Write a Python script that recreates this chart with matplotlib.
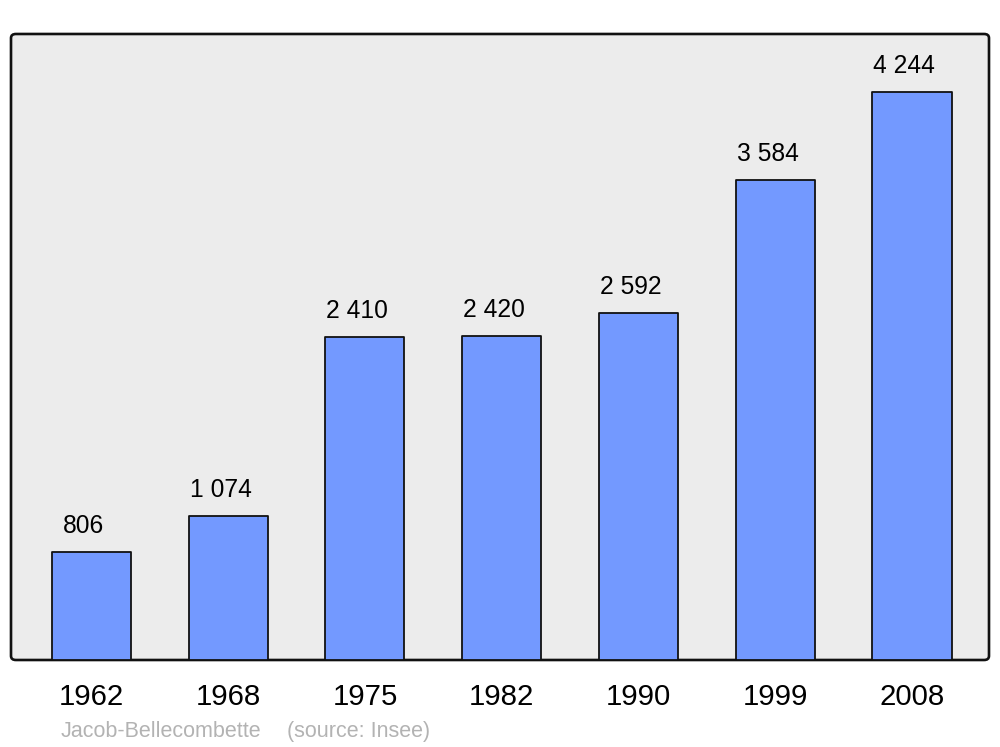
import matplotlib
matplotlib.use("Agg")
import matplotlib.pyplot as plt
from matplotlib.patches import FancyBboxPatch

years = ["1962", "1968", "1975", "1982", "1990", "1999", "2008"]
population = [806, 1074, 2410, 2420, 2592, 3584, 4244]
commune = "Jacob-Bellecombette"
source = "(source: Insee)"

plt.rcParams['font.family'] = ['Liberation Sans', 'DejaVu Sans']

fig = plt.figure(figsize=(10, 7.47), dpi=100)
ax = fig.add_axes([0.011, 0.11647, 0.978, 0.83803])
ax.set_facecolor('none')
for s in ax.spines.values():
    s.set_visible(False)

frame = FancyBboxPatch((0, 0), 1, 1, boxstyle="round,pad=0,rounding_size=0.005",
                       transform=ax.transAxes, facecolor='#ececec', edgecolor='#111111',
                       linewidth=1.9, zorder=0, clip_on=False, mutation_aspect=1.3)
ax.add_patch(frame)

x = list(range(len(years)))
bars = ax.bar(x, population, width=0.578, color='#7399ff', edgecolor='#111111',
              linewidth=1.3, zorder=2)
for b in bars:
    b.set_joinstyle('round')

for xi, v in zip(x, population):
    lab = f"{v:,}".replace(",", " ")
    ax.annotate(lab, (xi, v), xytext=(-5.5, 13.8), textcoords='offset points',
                ha='center', va='baseline', fontsize=17.7, color='black')

ax.set_xlim(-0.588, 6.563)
ax.set_ylim(0, 4677)
ax.set_yticks([])
ax.set_xticks(x)
ax.set_xticklabels(years, fontsize=21.2)
ax.tick_params(axis='x', length=0, pad=16.5)

fig.text(0.061, 1 - 737 / 747, commune, fontsize=15.5, color='#b3b3b3', ha='left', va='baseline')
fig.text(0.287, 1 - 737 / 747, source, fontsize=15.5, color='#b3b3b3', ha='left', va='baseline')

fig.savefig("out.png", dpi=100)
